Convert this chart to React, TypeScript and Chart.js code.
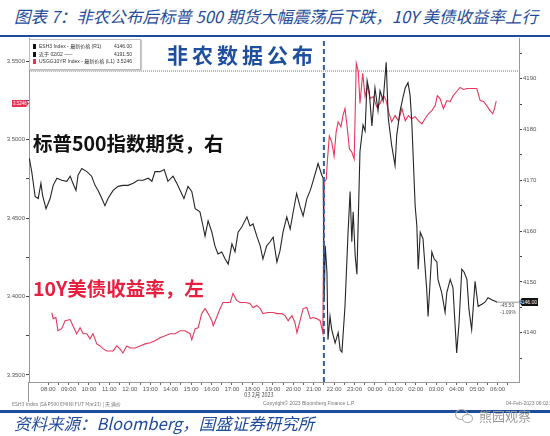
import React, { useEffect, useRef } from "react";
import { Chart, registerables } from "chart.js";
Chart.register(...registerables);

// x values are minutes after 08:00 (Beijing time, 03 Feb 2023)
const hourLabels = [
  "08:00", "09:00", "10:00", "11:00", "12:00", "13:00", "14:00", "15:00", "16:00", "17:00", "18:00", "19:00",
  "20:00", "21:00", "22:00", "23:00", "00:00", "01:00", "02:00", "03:00", "04:00", "05:00", "06:00",
];

// ESH3 Index (S&P 500 E-mini futures), right axis
const spxMinutes = [
  -55, -48, -38, -29, -21, -16, -6, 6, 15, 26,
  40, 55, 65, 73, 82, 88, 99, 114, 128, 138,
  147, 158, 167, 176, 191, 206, 220, 235, 250, 264,
  279, 294, 305, 314, 329, 341, 352, 367, 378, 388,
  399, 411, 422, 432, 446, 455, 461, 470, 481, 490,
  499, 510, 520, 529, 540, 549, 558, 569, 584, 593,
  602, 613, 623, 631, 642, 652, 661, 672, 681, 690,
  701, 711, 720, 730, 740, 749, 760, 770, 778, 793,
  804, 808, 811, 814, 819, 822, 828, 833, 843, 852,
  858, 863, 872, 881, 887, 892, 896, 902, 907, 916,
  925, 931, 937, 943, 951, 960, 969, 975, 984, 993,
  999, 1009, 1019, 1024, 1034, 1042, 1049, 1057, 1063, 1068,
  1078, 1083, 1087, 1093, 1101, 1112, 1116, 1127, 1134, 1142,
  1145, 1156, 1166, 1171, 1181, 1189, 1200, 1207, 1215, 1222,
  1230, 1236, 1244, 1254, 1263, 1274, 1283, 1292, 1303, 1313,
  1319,
];
const spxValues = [
  4174.3, 4171.7, 4166.8, 4166.4, 4169.4, 4167.0, 4164.4, 4166.4, 4169.0, 4170.4,
  4170.0, 4169.8, 4170.8, 4169.4, 4168.0, 4171.0, 4172.3, 4171.7, 4170.8, 4169.0,
  4168.0, 4166.4, 4165.0, 4166.4, 4168.0, 4168.8, 4169.0, 4169.0, 4169.4, 4170.0,
  4170.0, 4170.4, 4169.8, 4171.7, 4171.7, 4172.1, 4169.8, 4170.8, 4169.4, 4168.0,
  4166.4, 4168.8, 4167.8, 4164.4, 4163.8, 4161.0, 4159.0, 4162.0, 4159.8, 4157.1,
  4155.5, 4155.9, 4154.5, 4153.5, 4157.5, 4155.9, 4159.8, 4160.8, 4162.8, 4161.0,
  4161.4, 4159.0, 4157.1, 4154.5, 4157.1, 4157.9, 4158.8, 4153.9, 4156.1, 4159.8,
  4162.8, 4160.4, 4163.8, 4167.4, 4164.8, 4163.0, 4166.4, 4168.0, 4169.8, 4173.3,
  4171.0, 4170.4, 4146.5, 4157.1, 4151.9, 4138.6, 4143.2, 4140.6, 4138.0, 4140.0,
  4136.6, 4136.2, 4145.2, 4159.8, 4167.8, 4157.9, 4163.8, 4155.1, 4151.5, 4175.7,
  4180.9, 4179.7, 4189.6, 4187.6, 4180.7, 4188.2, 4183.7, 4187.6, 4185.6, 4193.2,
  4182.3, 4176.9, 4172.9, 4178.9, 4183.7, 4186.2, 4188.2, 4189.2, 4186.8, 4181.7,
  4165.0, 4161.0, 4152.5, 4159.8, 4158.5, 4148.5, 4143.2, 4155.9, 4154.5, 4153.9,
  4150.5, 4147.9, 4144.0, 4147.9, 4150.5, 4148.9, 4136.0, 4142.0, 4152.5, 4151.9,
  4150.5, 4144.6, 4140.6, 4150.1, 4145.2, 4145.6, 4146.0, 4146.9, 4146.5, 4146.2,
  4146.0,
];

// USGG10YR Index (US 10Y yield), left axis
const ustMinutes = [
  11, 15, 23, 29, 40, 50, 65, 73, 84, 94,
  103, 114, 123, 132, 143, 153, 162, 172, 182, 191,
  202, 211, 220, 231, 241, 256, 270, 285, 300, 314,
  329, 344, 358, 373, 388, 402, 417, 422, 432, 441,
  451, 461, 470, 481, 485, 495, 505, 514, 525, 535,
  543, 554, 564, 579, 593, 602, 613, 623, 631, 646,
  661, 672, 686, 696, 705, 716, 725, 731, 740, 749,
  760, 770, 778, 789, 799, 807, 811, 817, 820, 826,
  833, 840, 846, 852, 860, 866, 872, 879, 885, 892,
  899, 905, 911, 916, 924, 931, 938, 946, 955, 965,
  975, 985, 993, 1000, 1009, 1019, 1029, 1039, 1049, 1058,
  1068, 1078, 1088, 1098, 1107, 1117, 1127, 1137, 1143, 1151,
  1161, 1171, 1181, 1190, 1200, 1210, 1220, 1230, 1240, 1250,
  1259, 1269, 1279, 1288, 1298, 1306, 1311, 1316,
];
const ustValues = [
  3.3898, 3.3859, 3.3866, 3.3782, 3.3795, 3.3846, 3.3853, 3.3814, 3.3763, 3.3801,
  3.3763, 3.3763, 3.3730, 3.3763, 3.3698, 3.3685, 3.3666, 3.3653, 3.3653, 3.3653,
  3.3685, 3.3666, 3.3640, 3.3685, 3.3672, 3.3672, 3.3685, 3.3698, 3.3705, 3.3718,
  3.3737, 3.3750, 3.3763, 3.3763, 3.3782, 3.3782, 3.3763, 3.3724, 3.3795, 3.3801,
  3.3891, 3.3923, 3.3891, 3.3846, 3.3814, 3.3866, 3.3923, 3.3962, 3.3962, 3.3962,
  3.4020, 3.3975, 3.3962, 3.3962, 3.3956, 3.3930, 3.3943, 3.3923, 3.3891, 3.3898,
  3.3898, 3.3891, 3.3891, 3.3878, 3.3846, 3.3878, 3.3833, 3.3769, 3.3846, 3.3923,
  3.3930, 3.3859, 3.3866, 3.3859, 3.3846, 3.3769, 3.4728, 3.4747, 3.4857, 3.5024,
  3.4985, 3.4895, 3.5050, 3.5114, 3.5082, 3.5153, 3.5198, 3.5069, 3.4940, 3.4921,
  3.4876, 3.5487, 3.5436, 3.5230, 3.5423, 3.5275, 3.5339, 3.5262, 3.5275, 3.5210,
  3.5230, 3.5281, 3.5249, 3.5178, 3.5114, 3.5153, 3.5120, 3.5198, 3.5120, 3.5153,
  3.5133, 3.5146, 3.5120, 3.5101, 3.5133, 3.5165, 3.5185, 3.5217, 3.5281, 3.5262,
  3.5198, 3.5249, 3.5243, 3.5281, 3.5307, 3.5333, 3.5320, 3.5326, 3.5326, 3.5326,
  3.5326, 3.5249, 3.5243, 3.5217, 3.5185, 3.5165, 3.5198, 3.5246,
];

const releaseMinute = 810; // 21:30 non-farm payrolls release
const prevCloseSpx = 4191.5;
const lastSpx = 4146.0;
const lastUst = 3.5246;
const spxChange = "-45.50";
const spxChangePct = "-1.09%";

const X_MIN = -56;
const X_MAX = 1383;
const L_MIN = 3.3455;
const L_MAX = 3.5648;
const R_MIN = 4130.3;
const R_MAX = 4198;

const TICK_FONT = { size: 6, family: '"Liberation Sans Narrow", "Liberation Sans", sans-serif' };
const CJK = '"Noto Sans CJK SC", "Noto Sans", sans-serif';

export default function App() {
  const ref = useRef<HTMLCanvasElement | null>(null);

  useEffect(() => {
    if (!ref.current) return;
    const lastSpxMinute = spxMinutes[spxMinutes.length - 1];
    const chart = new Chart(ref.current, {
      type: "line",
      data: {
        datasets: [
          {
            label: "release",
            data: [
              { x: releaseMinute, y: L_MIN },
              { x: releaseMinute, y: L_MAX },
            ],
            yAxisID: "yL",
            borderColor: "#2b5ea8",
            borderWidth: 2,
            borderDash: [5, 3],
            pointRadius: 0,
          },
          {
            label: "ESH3 Index",
            data: spxMinutes.map((m, i) => ({ x: m, y: spxValues[i] })),
            yAxisID: "yR",
            borderColor: "#262626",
            borderWidth: 1.1,
            pointRadius: 0,
            tension: 0,
          },
          {
            label: "USGG10YR Index",
            data: ustMinutes.map((m, i) => ({ x: m, y: ustValues[i] })),
            yAxisID: "yL",
            borderColor: "#e6385c",
            borderWidth: 1.1,
            pointRadius: 0,
            tension: 0,
          },
          {
            label: "prev close",
            data: [
              { x: X_MIN, y: prevCloseSpx },
              { x: X_MAX, y: prevCloseSpx },
            ],
            yAxisID: "yR",
            borderColor: "#777777",
            borderWidth: 1,
            borderDash: [1, 1],
            pointRadius: 0,
          },
          {
            label: "last",
            data: [
              { x: lastSpxMinute, y: lastSpx },
              { x: X_MAX, y: lastSpx },
            ],
            yAxisID: "yR",
            borderColor: "#9a9a9a",
            borderWidth: 1,
            pointRadius: 0,
          },
        ],
      },
      options: {
        responsive: false,
        animation: false,
        devicePixelRatio: 1,
        layout: { padding: { top: 2, left: 0, right: 0, bottom: 0 } },
        plugins: { legend: { display: false }, tooltip: { enabled: false } },
        scales: {
          x: {
            type: "linear",
            min: X_MIN,
            max: X_MAX,
            afterBuildTicks: (s: any) => {
              const t = [];
              for (let v = 0; v <= 1350; v += 30) t.push({ value: v });
              s.ticks = t;
            },
            afterFit: (s: any) => {
              s.height = 30;
              s.paddingLeft = 0;
              s.paddingRight = 0;
            },
            ticks: {
              autoSkip: false,
              maxRotation: 0,
              padding: 1,
              color: "#555",
              font: TICK_FONT,
              callback: (v: any) => (v % 60 === 0 ? hourLabels[v / 60] ?? "" : ""),
            },
            grid: { drawOnChartArea: false, drawTicks: true, tickLength: 3, tickColor: "#666" },
            border: { color: "#999", width: 1 },
          },
          yL: {
            type: "linear",
            position: "left",
            min: L_MIN,
            max: L_MAX,
            afterBuildTicks: (s: any) => {
              const t = [];
              for (let k = 0; k <= 8; k++) t.push({ value: 3.35 + k * 0.025 });
              s.ticks = t;
            },
            afterFit: (s: any) => {
              s.width = 29;
              s.paddingTop = 0;
              s.paddingBottom = 0;
            },
            ticks: {
              padding: 1,
              color: "#555",
              font: TICK_FONT,
              callback: (v: any, i: number) => (i % 2 === 0 ? Number(v).toFixed(4) : ""),
            },
            grid: { drawOnChartArea: false, drawTicks: true, tickLength: 3, tickColor: "#444" },
            border: { color: "#999", width: 1 },
          },
          yR: {
            type: "linear",
            position: "right",
            min: R_MIN,
            max: R_MAX,
            afterBuildTicks: (s: any) => {
              const t = [];
              for (let v = 4135; v <= 4195; v += 5) t.push({ value: v });
              s.ticks = t;
            },
            afterFit: (s: any) => {
              s.width = 31;
              s.paddingTop = 0;
              s.paddingBottom = 0;
            },
            ticks: {
              padding: 1,
              color: "#555",
              font: TICK_FONT,
              callback: (v: any) => (Math.round(v) % 10 === 0 ? String(Math.round(v)) : ""),
            },
            grid: { drawOnChartArea: false, drawTicks: true, tickLength: 3, tickColor: "#444" },
            border: { color: "#999", width: 1 },
          },
        },
      },
    });
    return () => chart.destroy();
  }, []);

  const abs = (s: React.CSSProperties): React.CSSProperties => ({
    position: "absolute",
    whiteSpace: "nowrap",
    lineHeight: 1,
    ...s,
  });

  return (
    <div
      style={{
        position: "absolute",
        left: 0,
        top: 0,
        width: 550,
        height: 436,
        background: "#fff",
        overflow: "hidden",
        fontFamily: CJK,
      }}
    >
      {/* title */}
      <div
        style={abs({
          left: 14,
          top: 8,
          fontSize: 16.5,
          fontStyle: "italic",
          color: "#1f4b9b",
        })}
      >
        图表 7：非农公布后标普 500 期货大幅震荡后下跌，10Y 美债收益率上行
      </div>
      <div style={abs({ left: 0, top: 35, width: 550, height: 2, background: "#1d4c9c" })} />

      <canvas
        ref={ref}
        width={550}
        height={376}
        style={{ position: "absolute", left: 0, top: 36, width: 550, height: 376 }}
      />

      {/* left axis extension below the time axis */}
      <div style={abs({ left: 28, top: 382, width: 1, height: 20, background: "#999" })} />

      {/* legend box */}
      <div
        style={abs({
          left: 29,
          top: 39,
          width: 110,
          height: 29,
          background: "#fff",
          border: "1px solid #bbb",
          boxShadow: "1px 1px 1px #ccc",
          fontSize: 5,
          color: "#333",
          fontFamily: '"Liberation Sans", ' + CJK,
        })}
      >
        {[
          { c: "#111", t: "ESH3 Index - 最新价格 (R1)", v: lastSpx.toFixed(2), y: 4 },
          { c: "#111", t: "近于 02/02 -----", v: prevCloseSpx.toFixed(2), y: 12 },
          { c: "#e8304f", t: "USGG10YR Index - 最新价格 (L1)", v: lastUst.toFixed(4), y: 19 },
        ].map((r, i) => (
          <React.Fragment key={i}>
            <div style={abs({ left: 3, top: r.y, width: 3, height: 5, background: r.c })} />
            <div style={abs({ left: 9, top: r.y, fontSize: 5 })}>{r.t}</div>
            <div style={abs({ right: 8, top: r.y, fontSize: 5 })}>{r.v}</div>
          </React.Fragment>
        ))}
      </div>

      {/* last value labels */}
      <div
        style={abs({
          left: 12,
          top: 100,
          width: 17,
          height: 7,
          background: "#e8304f",
          color: "#fff",
          fontSize: 4.5,
          lineHeight: "7px",
          paddingLeft: 1,
          boxSizing: "border-box",
          fontFamily: '"Liberation Sans", sans-serif',
          clipPath: "polygon(0 0, 82% 0, 100% 50%, 82% 100%, 0 100%)",
        })}
      >
        {lastUst.toFixed(4)}
      </div>
      <div
        style={abs({
          left: 519,
          top: 298,
          width: 19,
          height: 8,
          background: "#111",
          color: "#fff",
          fontSize: 5,
          lineHeight: "8px",
          textAlign: "right",
          paddingRight: 1,
          boxSizing: "border-box",
          fontFamily: '"Liberation Sans", sans-serif',
          clipPath: "polygon(15% 0, 100% 0, 100% 100%, 15% 100%, 0 50%)",
        })}
      >
        {lastSpx.toFixed(2)}
      </div>
      <div style={abs({ left: 500, top: 303, fontSize: 5, color: "#555", fontFamily: '"Liberation Sans", sans-serif' })}>
        {spxChange}
      </div>
      <div style={abs({ left: 500, top: 310, fontSize: 5, color: "#555", fontFamily: '"Liberation Sans", sans-serif' })}>
        {spxChangePct}
      </div>

      {/* annotations */}
      <div style={abs({ left: 167, top: 44, fontSize: 21, fontWeight: 700, letterSpacing: 4, color: "#1d4f9e" })}>
        非农数据公布
      </div>
      <div style={abs({ left: 33, top: 133, fontSize: 19.5, fontWeight: 700, color: "#111" })}>
        标普500指数期货，右
      </div>
      <div style={abs({ left: 33, top: 278, fontSize: 19.5, fontWeight: 700, color: "#e8203f" })}>
        10Y美债收益率，左
      </div>

      {/* date under axis */}
      <div style={abs({ left: 259, top: 393, transform: "translateX(-50%)", fontSize: 5.5, color: "#555" })}>
        03 2月 2023
      </div>

      {/* footer line of the bloomberg chart */}
      <div style={abs({ left: 12, top: 401, fontSize: 5, color: "#777" })}>
        ESH3 Index (S&amp;P500 EMINI FUT Mar23) | 天 满价
      </div>
      <div style={abs({ left: 263, top: 401, fontSize: 5, color: "#777", fontFamily: '"Liberation Sans", sans-serif' })}>
        Copyright© 2023 Bloomberg Finance L.P.
      </div>
      <div style={abs({ left: 506, top: 401, fontSize: 5, color: "#777", fontFamily: '"Liberation Sans", sans-serif' })}>
        04-Feb-2023 06:02:15
      </div>

      <div style={abs({ left: 0, top: 410, width: 550, height: 3, background: "#1d4c9c" })} />

      {/* source */}
      <div style={abs({ left: 14, top: 415, fontSize: 16.5, fontStyle: "italic", color: "#1f4b9b" })}>
        资料来源：Bloomberg，国盛证券研究所
      </div>

      {/* watermark */}
      <div style={abs({ left: 455, top: 409, width: 11, height: 9, border: "1px solid #aaa", borderRadius: "50%" })} />
      <div style={abs({ left: 462, top: 414, width: 9, height: 7, border: "1px solid #aaa", borderRadius: "50%", background: "#fff" })} />
      <div style={abs({ left: 479, top: 409, fontSize: 13, color: "#9a9a9a" })}>熊园观察</div>
    </div>
  );
}
